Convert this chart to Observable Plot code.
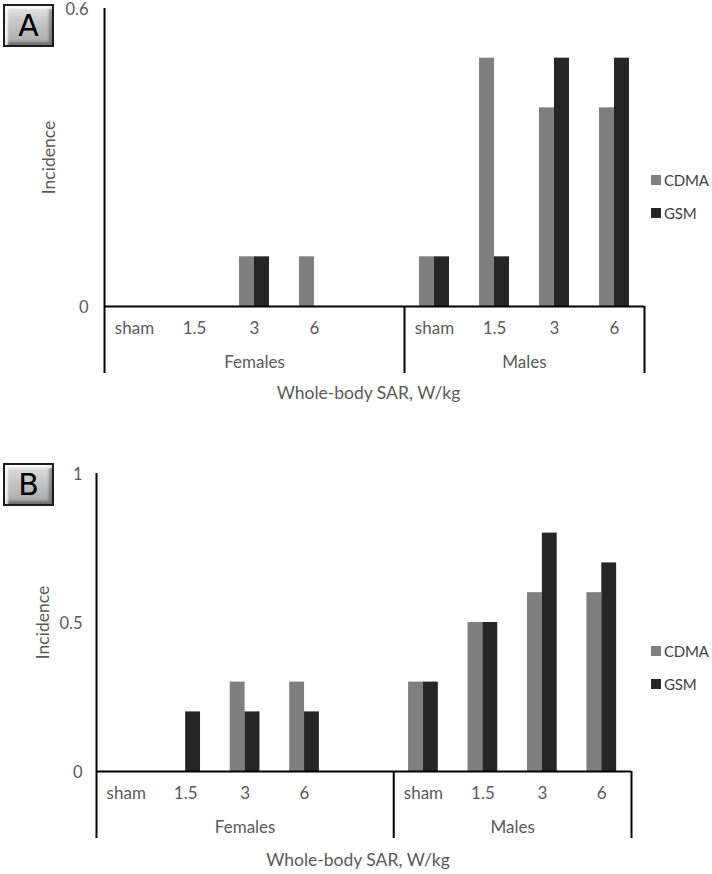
<!DOCTYPE html>
<html>
<head>
<meta charset="utf-8">
<script src="https://cdn.jsdelivr.net/npm/d3@7"></script>
<script src="https://cdn.jsdelivr.net/npm/@observablehq/plot@0.6"></script>
<style>
  html, body { margin: 0; padding: 0; background: #fff; }
  #wrap { position: relative; width: 712px; height: 874px; overflow: hidden; }
  .panel { position: absolute; left: 0; width: 712px; }
  .panel svg { overflow: visible; }
  .tag {
    position: absolute; width: 47px; height: 39px;
    border: 2px solid #1c1c1c;
    background: linear-gradient(180deg, #e4e4e4 0%, #c4c4c4 45%, #a8a8a8 100%);
    box-shadow: inset 3px 3px 2px rgba(255,255,255,0.8), inset -3px -3px 3px rgba(0,0,0,0.35);
    font-family: "DejaVu Sans", sans-serif; font-size: 30px; color: #000;
    display: flex; align-items: center; justify-content: center; line-height: 1;
  }
  .legend { position: absolute; left: 651px; font-family: Lato, sans-serif; font-size: 15px; color: #404040; letter-spacing: -0.2px; }
  .legend div { display: flex; align-items: center; height: 33px; white-space: nowrap; }
  .legend span.sw { display: inline-block; width: 10px; height: 10px; margin-right: 3px; }
</style>
</head>
<body>
<div id="wrap">
  <div class="panel" id="pA" style="top:0"></div>
  <div class="panel" id="pB" style="top:437px"></div>
  <div class="tag" style="left:3px; top:4px">A</div>
  <div class="tag" style="left:3px; top:463px">B</div>
  <div class="legend" id="legA" style="top:163px"></div>
  <div class="legend" id="legB" style="top:634px"></div>
</div>
<script>
// ---- data ----
const categories = ["sham", "1.5", "3", "6"];
const groups = ["Females", "Males"];
const seriesNames = ["CDMA", "GSM"];
const seriesColors = ["#7f7f7f", "#262626"];

// Panel A
const cdmaA_females = [0, 0, 0.1, 0.1];
const gsmA_females  = [0, 0, 0.1, 0];
const cdmaA_males   = [0.1, 0.5, 0.4, 0.4];
const gsmA_males    = [0.1, 0.1, 0.5, 0.5];
const yTicksA = [0, 0.6];

// Panel B
const cdmaB_females = [0, 0, 0.3, 0.3];
const gsmB_females  = [0, 0.2, 0.2, 0.2];
const cdmaB_males   = [0.3, 0.5, 0.6, 0.6];
const gsmB_males    = [0.3, 0.5, 0.8, 0.7];
const yTicksB = [0, 0.5, 1];

const xTitle = "Whole-body SAR, W/kg";
const yTitle = "Incidence";

// slots per group on the category axis (Females has one empty slot)
const groupSlots = [5, 4];

function panel({cF, gF, cM, gM, yMax, yTicks, mTop, mLeft, mRight, baseline, yTitleDx, tickPad, titleDy}) {
  const H = 437;
  const starts = [0, groupSlots[0]];
  const total = groupSlots[0] + groupSlots[1];
  const rows = [];
  const labels = [];
  [[cF, gF], [cM, gM]].forEach(([c, g], gi) => {
    categories.forEach((cat, i) => {
      const slot = starts[gi] + i;
      labels.push({slot, cat});
      rows.push({slot, series: seriesNames[0], value: c[i]});
      rows.push({slot, series: seriesNames[1], value: g[i]});
    });
  });
  const groupLabels = groups.map((g, gi) => ({g, center: starts[gi] + groupSlots[gi] / 2}));
  const bounds = [starts[1], total];
  const ext = 67;
  const txt = {fontFamily: "Lato, sans-serif", fontSize: 17, fill: "#595959"};
  return Plot.plot({
    width: 712, height: H,
    marginTop: mTop, marginLeft: mLeft, marginRight: mRight, marginBottom: H - baseline,
    style: {background: "transparent", fontFamily: "Lato, sans-serif", overflow: "visible"},
    x: {type: "linear", domain: [0, total], axis: null},
    y: {domain: [0, yMax], axis: null},
    marks: [
      Plot.rect(rows.filter(d => d.value > 0), {
        x1: d => d.slot + (d.series === seriesNames[0] ? 0.25 : 0.5),
        x2: d => d.slot + (d.series === seriesNames[0] ? 0.5 : 0.75),
        y1: 0, y2: d => d.value,
        fill: d => seriesColors[seriesNames.indexOf(d.series)]
      }),
      Plot.ruleY([0], {stroke: "#000", strokeWidth: 2}),
      Plot.ruleX([0], {y1: yMax, y2: 0, insetBottom: -ext, stroke: "#000", strokeWidth: 2}),
      Plot.ruleX(bounds, {x: d => d, y1: 0, y2: 0, insetBottom: -ext, stroke: "#000", strokeWidth: 2}),
      Plot.text(yTicks, {y: d => d, frameAnchor: "left", dx: -tickPad, dy: 1.5, textAnchor: "end", lineAnchor: "middle", text: d => String(d), ...txt, fontSize: 16.5}),
      Plot.text(labels, {x: d => d.slot + 0.5, y: 0, dy: 22, text: d => d.cat, ...txt}),
      Plot.text(groupLabels, {x: d => d.center, y: 0, dy: 56, text: d => d.g, ...txt}),
      Plot.text([xTitle], {frameAnchor: "bottom", textAnchor: "middle", lineAnchor: "middle", dy: titleDy, dx: -6, text: d => d, ...txt, fontSize: 17.5}),
      Plot.text([yTitle], {frameAnchor: "left", textAnchor: "middle", lineAnchor: "middle", dx: yTitleDx, rotate: -90, text: d => d, ...txt, fontSize: 17.5})
    ]
  });
}

document.getElementById("pA").appendChild(panel({
  cF: cdmaA_females, gF: gsmA_females, cM: cdmaA_males, gM: gsmA_males,
  yMax: 0.6, yTicks: yTicksA, mTop: 8, mLeft: 104, mRight: 68, baseline: 306, yTitleDx: -55, tickPad: 16, titleDy: 87
}));
document.getElementById("pB").appendChild(panel({
  cF: cdmaB_females, gF: gsmB_females, cM: cdmaB_males, gM: gsmB_males,
  yMax: 1, yTicks: yTicksB, mTop: 36, mLeft: 96, mRight: 81, baseline: 334, yTitleDx: -53, tickPad: 14, titleDy: 89
}));

function legend(id) {
  const el = document.getElementById(id);
  seriesNames.forEach((s, i) => {
    const row = document.createElement("div");
    row.innerHTML = `<span class="sw" style="background:${seriesColors[i]}"></span>${s}`;
    el.appendChild(row);
  });
}
legend("legA");
legend("legB");
</script>
</body>
</html>
